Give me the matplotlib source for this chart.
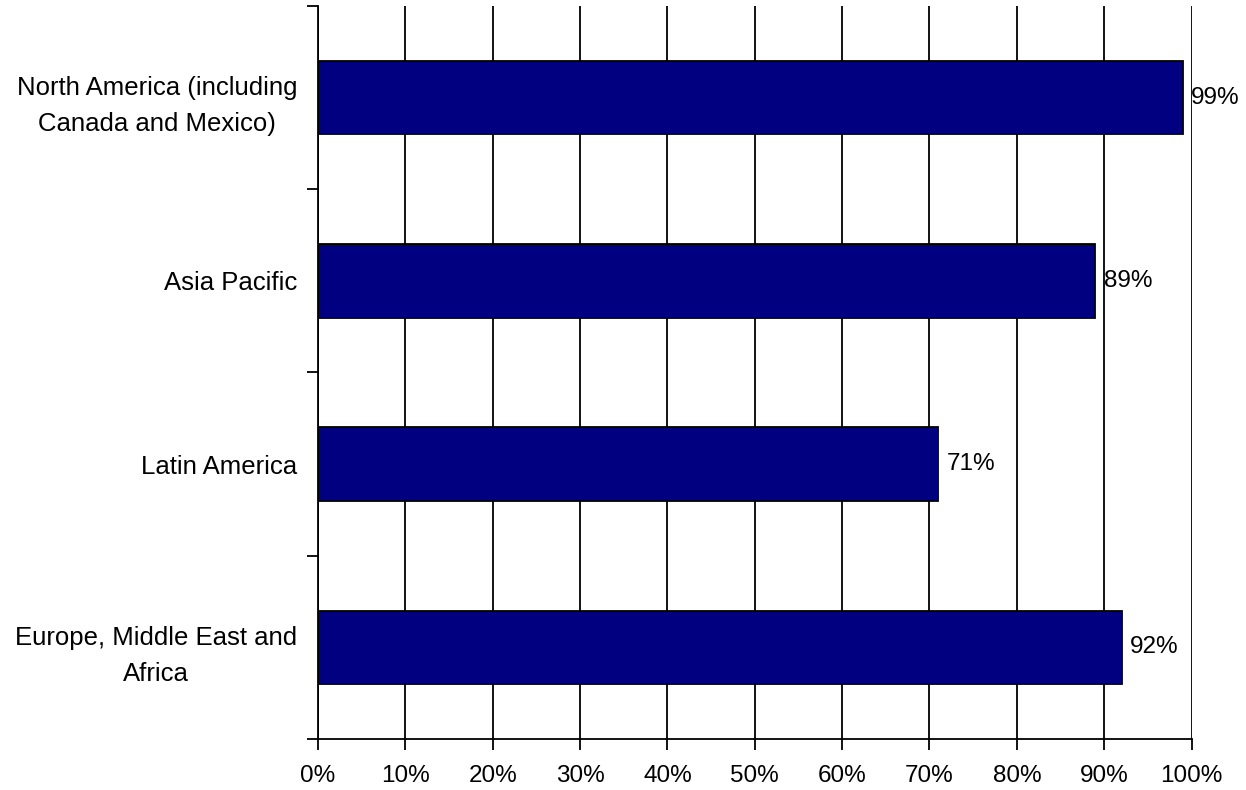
import numpy as np
import matplotlib.pyplot as plt
from matplotlib.ticker import FixedLocator, PercentFormatter

plt.rcParams['font.family'] = ['Liberation Sans', 'DejaVu Sans']

# --- Datos ---
regions = ["Europe, Middle East and\nAfrica",
           "Latin America",
           "Asia Pacific",
           "North America (including\nCanada and Mexico)"]
values = [92, 71, 89, 99]
xticks = list(range(0, 101, 10))

fig = plt.figure(figsize=(12.46, 7.9), dpi=100)
ax = fig.add_axes([0.2552, 0.0646, 0.9563 - 0.2552, 0.9924 - 0.0646])

y = np.arange(len(regions))
bars = ax.barh(y, values, height=0.4, color='#000080', edgecolor='black',
               linewidth=1.3, zorder=3)
ax.bar_label(bars, labels=[f"{v}%" for v in values], padding=6, fontsize=17.5)

# Ejes
ax.set_xlim(0, 100)
ax.set_ylim(-0.5, len(regions) - 0.5)
ax.set_xticks(xticks)
ax.xaxis.set_major_formatter(PercentFormatter(decimals=0))
ax.set_yticks(y)
ax.set_yticklabels(regions, multialignment='center', linespacing=1.65)
ax.yaxis.set_minor_locator(FixedLocator(np.arange(-0.5, len(regions), 1.0)))

ax.tick_params(axis='y', which='major', length=0, pad=15, labelsize=18.5)
ax.tick_params(axis='y', which='minor', length=8, width=1.3, color='black')
ax.tick_params(axis='x', length=8, width=1.3, pad=11, labelsize=17.5)

# Rejilla vertical
ax.grid(True, axis='x', color='black', linewidth=1.3, zorder=0)
ax.set_axisbelow(True)

for s in ['top', 'right']:
    ax.spines[s].set_visible(False)
for s in ['left', 'bottom']:
    ax.spines[s].set_linewidth(1.3)

fig.savefig('out.png', dpi=100)
